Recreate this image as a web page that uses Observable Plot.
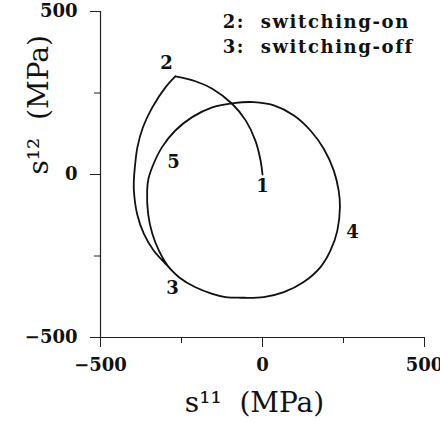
<!DOCTYPE html>
<html>
<head>
<meta charset="utf-8">
<script src="https://cdn.jsdelivr.net/npm/d3@7"></script>
<script src="https://cdn.jsdelivr.net/npm/@observablehq/plot@0.6"></script>
<style>
  html, body { margin: 0; padding: 0; background: #fff; }
</style>
</head>
<body>
<div id="chart"></div>
<script>
// Path 1 -> 2 (switching-on)
const onS11 = [0, -6, -22, -52, -94, -155, -207, -269];
const onS12 = [0, 43, 104, 166, 217, 263, 286, 301];
// Path 2 -> 5 -> 3 -> 4 -> 5 -> 3
const loopS11 = [-269, -299, -340, -369, -386, -394, -397, -397, -387, -366, -336, -299, -258, -207, -155, -114, -68, 4, 66, 127, 179, 210, 231, 239, 235, 220, 189, 148, 97, 35, -27, -89, -155, -217, -269, -310, -336, -352, -356, -353, -340, -320, -293, -258];
const loopS12 = [301, 268, 206, 145, 84, 22, -18, -49, -121, -182, -233, -274, -315, -346, -366, -376, -378, -376, -361, -330, -284, -233, -172, -100, -49, 12, 79, 135, 181, 212, 222, 219, 206, 176, 135, 84, 33, -13, -49, -121, -182, -233, -279, -315];

// Point labels
const ptText = ["1", "2", "3", "4", "5"];
const ptS11 = [0, -296, -278, 278, -275];
const ptS12 = [-37, 340, -350, -178, 37];

// Legend
const legendText = ["2:\u00a0 switching-on", "3:\u00a0 switching-off"];
const legendS11 = [-123, -123];
const legendS12 = [448, 374];

// Axis ticks
const majorTicks = [-500, 0, 500];
const minorTicks = [-250, 250];

const rows = [
  ...onS11.map((x, i) => ({x, y: onS12[i], seg: "on"})),
  ...loopS11.map((x, i) => ({x, y: loopS12[i], seg: "loop"}))
];
const pts = ptText.map((t, i) => ({t, x: ptS11[i], y: ptS12[i]}));
const leg = legendText.map((t, i) => ({t, x: legendS11[i], y: legendS12[i]}));

const serif = "DejaVu Serif";

const chart = Plot.plot({
  width: 440,
  height: 422,
  marginLeft: 100,
  marginRight: 16,
  marginTop: 11,
  marginBottom: 85,
  style: {background: "#fff", fontFamily: serif, color: "#111"},
  x: {domain: [-500, 500]},
  y: {domain: [-500, 500]},
  marks: [
    Plot.ruleY([-500], {stroke: "#222", strokeWidth: 1.2}),
    Plot.ruleX([-500], {stroke: "#222", strokeWidth: 1.2}),
    Plot.axisX({ticks: majorTicks, tickSize: 10, tickPadding: 11, fontSize: 18, fontWeight: "bold", fontFamily: serif, label: null, stroke: "#222"}),
    Plot.axisX({ticks: minorTicks, tickSize: 6, text: null, label: null, stroke: "#222"}),
    Plot.axisY({ticks: majorTicks, tickSize: 10, tickPadding: 13, fontSize: 18, fontWeight: "bold", fontFamily: serif, label: null, stroke: "#222"}),
    Plot.axisY({ticks: minorTicks, tickSize: 6, text: null, label: null, stroke: "#222"}),
    Plot.line(rows, {x: "x", y: "y", z: "seg", curve: "catmull-rom", stroke: "#111", strokeWidth: 1.8}),
    Plot.text(pts, {x: "x", y: "y", text: "t", fontSize: 18, fontWeight: "bold", fontFamily: serif, fill: "#111"}),
    Plot.text(leg, {x: "x", y: "y", text: "t", textAnchor: "start", lineAnchor: "bottom", fontSize: 18, fontWeight: "bold", fontFamily: serif, fill: "#111"}),
    Plot.text(["s¹¹  (MPa)"], {frameAnchor: "bottom", dx: -8, dy: 74, lineAnchor: "bottom", fontSize: 28, fontFamily: serif, fill: "#111"}),
    Plot.text(["s¹²  (MPa)"], {frameAnchor: "left", dx: -53, dy: 0, rotate: -90, lineAnchor: "bottom", fontSize: 28, fontFamily: serif, fill: "#111"})
  ]
});
d3.select(chart).selectAll("text")
  .filter(function() { return /switching/.test(this.textContent); })
  .style("letter-spacing", "1.6px");
document.getElementById("chart").appendChild(chart);
</script>
</body>
</html>
